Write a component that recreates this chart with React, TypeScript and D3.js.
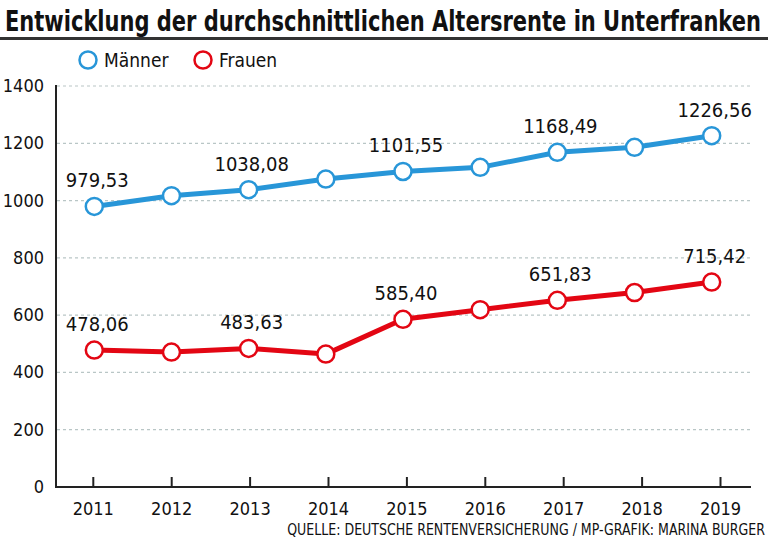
import React, { useLayoutEffect, useRef, useState } from "react";
import * as d3 from "d3";

const years = [2011, 2012, 2013, 2014, 2015, 2016, 2017, 2018, 2019];
const maenner = [979.53, 1017, 1038.08, 1075, 1101.55, 1116, 1168.49, 1186, 1226.56];
const frauen = [478.06, 471, 483.63, 464, 585.4, 619, 651.83, 679, 715.42];
const labeledYears = [2011, 2013, 2015, 2017, 2019];
const yTicks = [0, 200, 400, 600, 800, 1000, 1200, 1400];

const title = "Entwicklung der durchschnittlichen Altersrente in Unterfranken";
const source = "QUELLE: DEUTSCHE RENTENVERSICHERUNG / MP-GRAFIK: MARINA BURGER";
const seriesNames = ["Männer", "Frauen"];

const BLUE = "#2896d8";
const RED = "#e30613";
const FONT = "'Liberation Sans Narrow', 'DejaVu Sans Condensed', 'Open Sans', sans-serif";

const W = 768;
const H = 541;

function FitText(props: {
  x: number;
  y: number;
  width: number;
  base: number;
  sy?: number;
  anchor?: string;
  bold?: boolean;
  children: string;
}) {
  const ref = useRef<SVGTextElement>(null);
  const [size, setSize] = useState(props.base);
  useLayoutEffect(() => {
    if (ref.current) {
      const len = ref.current.getComputedTextLength();
      if (len > 0) {
        const s = (props.base * props.width) / len;
        if (Math.abs(s - size) > 0.05) setSize(s);
      }
    }
  }, []);
  return (
    <g transform={`translate(${props.x},${props.y}) scale(1,${props.sy || 1})`}>
      <text
        ref={ref}
        x={0}
        y={0}
        fontSize={size}
        fontWeight={props.bold ? "bold" : "normal"}
        textAnchor={props.anchor || "start"}
        fill="#111"
      >
        {props.children}
      </text>
    </g>
  );
}

export default function App() {
  const y = d3.scaleLinear().domain([0, 1400]).range([487, 86]);
  const xData = d3.scalePoint<number>().domain(years).range([94.3, 711.7]);
  const xAxis = d3.scalePoint<number>().domain(years).range([93.3, 720.5]);
  const line = d3
    .line<number>()
    .x((_, i) => xData(years[i]) as number)
    .y((v) => y(v));
  const fmt = (v: number) => d3.format(".2f")(v).replace(".", ",");

  const series = [
    { name: seriesNames[0], values: maenner, color: BLUE },
    { name: seriesNames[1], values: frauen, color: RED },
  ];

  return (
    <svg
      width={W}
      height={H}
      style={{ position: "absolute", left: 0, top: 0, background: "#fff" }}
      fontFamily={FONT}
    >
      <rect width={W} height={H} fill="#fff" />
      <FitText x={5} y={31} width={756} base={26} sy={1.25} bold>
        {title}
      </FitText>
      <line x1={0} x2={W} y1={38.5} y2={38.5} stroke="#333" strokeWidth={3} />

      {/* legend */}
      <circle cx={88} cy={60} r={8.5} fill="#fff" stroke={BLUE} strokeWidth={2.5} />
      <text x={104} y={67} fontSize={19} fill="#111">{seriesNames[0]}</text>
      <circle cx={203} cy={60} r={8.5} fill="#fff" stroke={RED} strokeWidth={2.5} />
      <text x={219} y={67} fontSize={19} fill="#111">{seriesNames[1]}</text>

      {/* grid */}
      {yTicks.filter((t) => t > 0).map((t) => (
        <line
          key={t}
          x1={57}
          x2={750}
          y1={y(t)}
          y2={y(t)}
          stroke="#b9c6c6"
          strokeWidth={1.2}
          strokeDasharray="3,3"
        />
      ))}
      {yTicks.map((t) => (
        <text
          key={"l" + t}
          x={44}
          y={y(t) + 6}
          fontSize={18}
          textAnchor="end"
          fill="#111"
        >
          {t}
        </text>
      ))}

      {/* axes */}
      <line x1={56} x2={56} y1={85} y2={488} stroke="#222" strokeWidth={2} />
      <line x1={55} x2={751} y1={487} y2={487} stroke="#222" strokeWidth={2} />
      {years.map((yr) => (
        <g key={yr}>
          <line
            x1={xAxis(yr)}
            x2={xAxis(yr)}
            y1={477}
            y2={487}
            stroke="#222"
            strokeWidth={2}
          />
          <text x={xAxis(yr)} y={515} fontSize={18} textAnchor="middle" fill="#111">
            {yr}
          </text>
        </g>
      ))}

      {/* series */}
      {series.map((s) => (
        <g key={s.name}>
          <path d={line(s.values) || ""} fill="none" stroke={s.color} strokeWidth={5} strokeLinejoin="round" />
          {s.values.map((v, i) => (
            <circle
              key={i}
              cx={xData(years[i])}
              cy={y(v)}
              r={8.5}
              fill="#fff"
              stroke={s.color}
              strokeWidth={2.5}
            />
          ))}
          {s.values.map((v, i) =>
            labeledYears.includes(years[i]) ? (
              <text
                key={"t" + i}
                x={(xData(years[i]) as number) + 3}
                y={y(v) - 19}
                fontSize={20}
                textAnchor="middle"
                fill="#111"
              >
                {fmt(v)}
              </text>
            ) : null
          )}
        </g>
      ))}

      <FitText x={765} y={535} width={477} base={14} sy={1.1} anchor="end">
        {source}
      </FitText>
    </svg>
  );
}
